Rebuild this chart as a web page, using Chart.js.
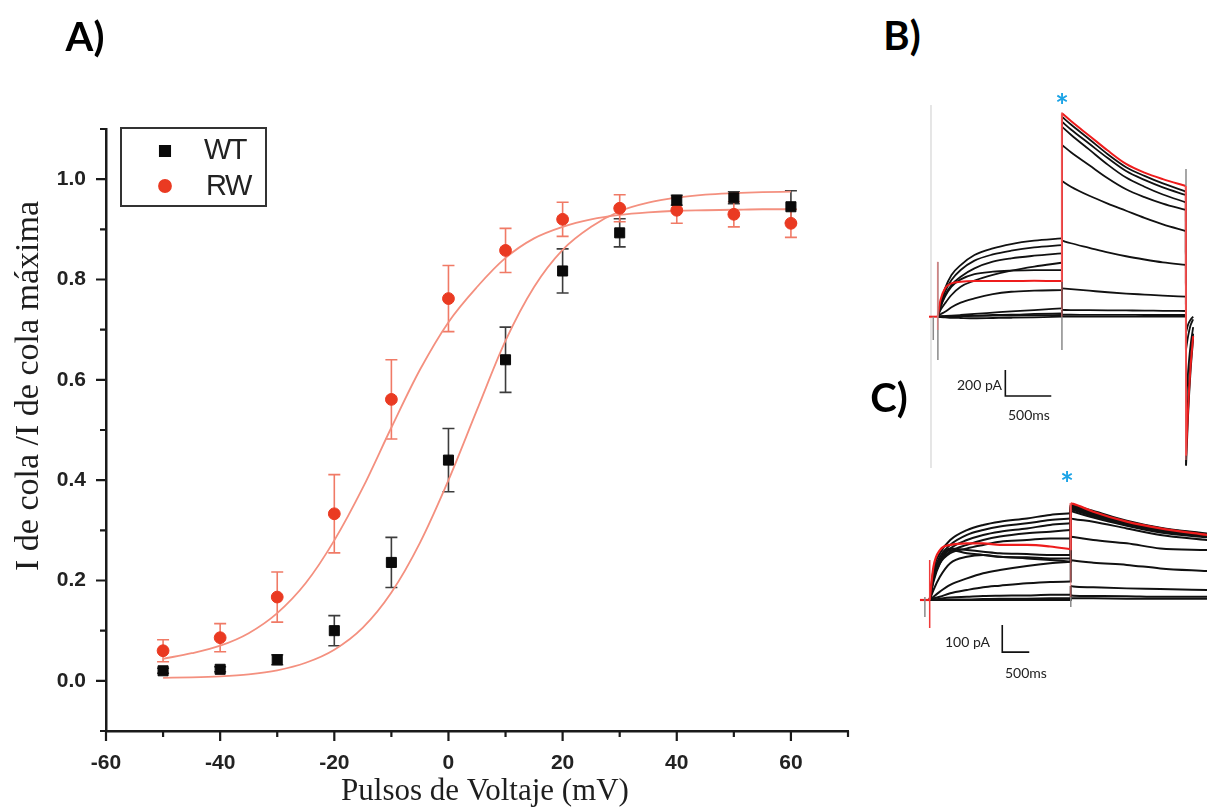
<!DOCTYPE html>
<html>
<head>
<meta charset="utf-8">
<script src="https://cdn.jsdelivr.net/npm/chart.js@4.4.1/dist/chart.umd.min.js"></script>
<style>
  body { margin: 0; background: #fff; }
  #page { position: relative; width: 1207px; height: 809px; overflow: hidden; background: #fff; }
  canvas { position: absolute; }
  #chartA { left: 0; top: 0; }
  #chartB { left: 925px; top: 90px; }
  #chartC { left: 915px; top: 470px; }
  .panel { position: absolute; font-family: Lato, "Liberation Sans", sans-serif; font-weight: bold; font-size: 40px; line-height: 40px; color: #000; transform: translate(-50%, -50%); }
  .bar { position: absolute; font-family: Lato, "Liberation Sans", sans-serif; font-size: 14px; line-height: 14px; color: #222; white-space: nowrap; }
  .star { position: absolute; font-family: Lato, "Liberation Sans", sans-serif; font-weight: bold; font-size: 32px; line-height: 32px; color: #1ba3e6; transform: translate(-50%, -50%); }
</style>
</head>
<body>
<div id="page">
  <canvas id="chartA" width="880" height="809"></canvas>
  <canvas id="chartB" width="270" height="380"></canvas>
  <canvas id="chartC" width="292" height="200"></canvas>
  <div class="panel" style="left:85px; top:36px;">A)</div>
  <div class="panel" style="left:902px; top:35px;">B)</div>
  <div class="panel" style="left:889px; top:397px;">C)</div>
  <div class="star" style="left:1062px; top:106px;">*</div>
  <div class="star" style="left:1067px; top:484px;">*</div>
  <div class="bar" style="left:957px; top:378px;">200 pA</div>
  <div class="bar" style="left:1008px; top:408px;">500ms</div>
  <div class="bar" style="left:945px; top:635px;">100 pA</div>
  <div class="bar" style="left:1005px; top:666px;">500ms</div>
</div>
<script>
// ---- A) normalised tail current vs step voltage ----
const voltages = [-50, -40, -30, -20, -10, 0, 10, 20, 30, 40, 50, 60];
const wtMean = [0.02, 0.023, 0.042, 0.10, 0.236, 0.44, 0.64, 0.817, 0.893, 0.958, 0.963, 0.945];
const wtErr = [0.005, 0.005, 0.01, 0.03, 0.05, 0.063, 0.065, 0.044, 0.028, 0.01, 0.012, 0.032];
const rwMean = [0.06, 0.086, 0.167, 0.333, 0.561, 0.762, 0.858, 0.92, 0.942, 0.938, 0.93, 0.912];
const rwErr = [0.022, 0.028, 0.05, 0.078, 0.079, 0.066, 0.044, 0.034, 0.027, 0.026, 0.025, 0.028];

// Boltzmann fits, read every 5 mV
const fitV = [-50, -45, -40, -35, -30, -25, -20, -15, -10, -5, 0, 5, 10, 15, 20, 25, 30, 35, 40, 45, 50, 55, 60];
const wtFit = [0.006, 0.007, 0.009, 0.013, 0.021, 0.036, 0.062, 0.106, 0.176, 0.275, 0.40, 0.54, 0.678, 0.785, 0.859, 0.905, 0.936, 0.953, 0.963, 0.969, 0.972, 0.974, 0.975];
const rwFit = [0.044, 0.055, 0.07, 0.095, 0.135, 0.195, 0.28, 0.385, 0.505, 0.62, 0.715, 0.785, 0.843, 0.882, 0.905, 0.92, 0.929, 0.934, 0.937, 0.938, 0.939, 0.94, 0.94];

const xTicks = [-60, -40, -20, 0, 20, 40, 60];
const yTicks = [0, 0.2, 0.4, 0.6, 0.8, 1.0];

// ---- B) current family (ms, pA) ----
const bStepT = [0, 30, 80, 150, 250, 400, 600, 800, 1050, 1350];
const bTailT = [1352, 1450, 1650, 1850, 2050, 2250, 2450, 2700];
const bOffT = [2703, 2725, 2750, 2780];
const bStep = [
  [0, 103, 218, 321, 397, 474, 526, 559, 585, 603],
  [0, 90, 192, 282, 359, 431, 479, 508, 533, 551],
  [0, 77, 167, 244, 308, 372, 423, 449, 469, 487],
  [0, 51, 103, 167, 231, 277, 321, 354, 385, 415],
  [0, 72, 154, 231, 287, 328, 346, 354, 359, 359],
  [0, 18, 38, 72, 108, 141, 174, 192, 200, 205],
  [0, 3, 5, 8, 13, 21, 31, 41, 51, 64],
  [0, 1, 3, 3, 5, 8, 13, 15, 21, 26],
  [0, 2, 3, 4, 5, 6, 8, 9, 11, 13],
  [0, -3, -5, -8, -10, -12, -10, -8, -5, 0]
];
const bTail = [
  [1538, 1478, 1365, 1250, 1150, 1083, 1025, 962],
  [1500, 1440, 1330, 1220, 1120, 1052, 995, 936],
  [1462, 1400, 1285, 1170, 1070, 1000, 940, 880],
  [1321, 1265, 1165, 1065, 980, 920, 870, 821],
  [1044, 1000, 930, 870, 815, 760, 710, 659],
  [585, 565, 530, 495, 465, 440, 418, 398],
  [218, 212, 200, 188, 178, 170, 162, 154],
  [52, 51, 50, 49, 48, 47, 45, 44],
  [15, 15, 14, 14, 14, 13, 13, 13],
  [0, 0, 0, 0, 0, 0, 0, 0]
];
const bOff = [
  [-1144, -760, -440, -170],
  null,
  [-950, -620, -350, -130],
  null,
  [-640, -420, -230, -80],
  [-250, -150, -70, -20],
  [-120, -60, -25, 0],
  null, null, null
];
const bRedPreT = [-95, -1];
const bRedPre = [0, 0];
const bRedStep = [0, 128, 218, 256, 269, 274, 274, 274, 277, 274];
const bRedTail = [1565, 1505, 1392, 1278, 1175, 1108, 1058, 1005];
const bRedOff = [-1067, -700, -400, -150];
// capacitive spikes and frame edge
const bPink = [[[0, 423], [0, -102]], [[1351, 1575], [1351, 0]], [[2701, 1005], [2701, -1103]]];
const bGray = [[[-48, 0], [-48, -179]], [[2, 421], [2, -333]], [[1352, 0], [1352, -256]], [[2702, 1136], [2702, 1005]]];
const bEdge = [[-73, 1628], [-73, -1164]];
const bScale = [[736, -410], [736, -610], [1236, -610]];

// ---- C) current family (ms, pA) ----
const cStepT = [0, 70, 190, 380, 690, 990, 1300, 1800, 2230, 2610];
const cTailT = [2612, 2660, 3030, 3650, 4270, 5140];
const cStep = [
  [0, 111, 173, 222, 259, 278, 290, 302, 315, 321],
  [0, 99, 160, 204, 241, 259, 272, 284, 296, 302],
  [0, 93, 148, 191, 222, 241, 253, 265, 278, 284],
  [0, 86, 142, 179, 204, 222, 235, 247, 253, 259],
  [0, 80, 136, 173, 191, 204, 216, 222, 228, 228],
  [0, 74, 148, 191, 185, 179, 173, 170, 167, 167],
  [0, 68, 136, 185, 173, 167, 160, 158, 154, 154],
  [0, 37, 86, 136, 160, 167, 160, 154, 148, 142],
  [0, 12, 31, 56, 80, 99, 111, 126, 136, 142],
  [0, 6, 12, 25, 37, 47, 53, 62, 67, 68],
  [0, 2, 5, 9, 12, 15, 16, 17, 19, 19],
  [0, 0, 1, 2, 2, 4, 5, 5, 6, 6],
  [0, 0, 0, 0, 0, 0, 0, 0, 0, 0]
];
const cTail = [
  [352, 350, 330, 294, 268, 246],
  [350, 347, 326, 291, 266, 244],
  [347, 344, 322, 288, 263, 242],
  [344, 341, 318, 285, 260, 240],
  [340, 337, 314, 282, 257, 238],
  [336, 333, 310, 278, 254, 235],
  [330, 327, 305, 275, 250, 232],
  [302, 300, 290, 265, 241, 222],
  [235, 233, 222, 210, 191, 185],
  [148, 146, 138, 130, 117, 107],
  [52, 50, 47, 43, 41, 37],
  [17, 16, 15, 14, 12, 12],
  [6, 6, 6, 5, 5, 5]
];
const cRedPreT = [-180, -1];
const cRedPre = [0, 0];
const cRedStep = [0, 123, 185, 204, 210, 210, 204, 204, 198, 188];
const cRedTail = [358, 356, 327, 290, 265, 241];
const cPink = [[[2611, 359], [2611, 11]]];
const cRedSpike = [[0, 148], [0, -104]];
const cGray = [[[-89, 11], [-89, -63]], [[2613, 11], [2613, -26]]];
const cScale = [[1344, -93], [1344, -193], [1844, -193]];

const TRACE_RED = '#ee1c1c';
const PINK = 'rgba(240, 120, 120, 0.65)';

// ---------- panel A ----------
const errorBars = {
  id: 'errorBars',
  beforeDatasetsDraw(chart) {
    const { ctx, scales: { x, y } } = chart;
    chart.data.datasets.forEach((ds) => {
      if (!ds.errors) return;
      ctx.save();
      ctx.strokeStyle = ds.errorColor;
      ctx.lineWidth = 1.6;
      ds.data.forEach((p, i) => {
        const px = x.getPixelForValue(p.x);
        const top = y.getPixelForValue(p.y + ds.errors[i]);
        const bot = y.getPixelForValue(p.y - ds.errors[i]);
        ctx.beginPath();
        ctx.moveTo(px, top); ctx.lineTo(px, bot);
        ctx.moveTo(px - 6, top); ctx.lineTo(px + 6, top);
        ctx.moveTo(px - 6, bot); ctx.lineTo(px + 6, bot);
        ctx.stroke();
      });
      ctx.restore();
    });
  }
};

// outward major/minor tick marks, axis titles and the boxed legend
const decorations = {
  id: 'decorations',
  afterDraw(chart) {
    const { ctx, chartArea, scales: { x, y } } = chart;
    ctx.save();
    ctx.strokeStyle = '#1a1a1a';
    ctx.lineWidth = 2.2;
    ctx.beginPath();
    x.ticks.forEach((t) => {
      const px = x.getPixelForValue(t.value);
      ctx.moveTo(px, chartArea.bottom);
      ctx.lineTo(px, chartArea.bottom + (t.label ? 10 : 6));
    });
    y.ticks.forEach((t) => {
      const py = y.getPixelForValue(t.value);
      ctx.moveTo(chartArea.left, py);
      ctx.lineTo(chartArea.left - (t.label ? 10 : 6), py);
    });
    ctx.stroke();

    ctx.fillStyle = '#1e1e1e';
    ctx.textAlign = 'center';
    ctx.textBaseline = 'alphabetic';
    ctx.font = '31px "Liberation Serif", serif';
    ctx.fillText('Pulsos de Voltaje (mV)', 485, 800);
    ctx.save();
    ctx.translate(38, 386);
    ctx.rotate(-Math.PI / 2);
    ctx.font = '34px "Liberation Serif", serif';
    ctx.fillText('I de cola /I de cola máxima', 0, 0);
    ctx.restore();

    ctx.strokeStyle = '#333';
    ctx.lineWidth = 2;
    ctx.strokeRect(121, 128, 145, 78);
    Chart.helpers.drawPoint(ctx, { pointStyle: 'rect', radius: 7.1, borderWidth: 1 }, 165, 151);
    ctx.fillStyle = '#0a0a0a'; ctx.strokeStyle = '#0a0a0a';
    ctx.fill(); ctx.stroke();
    ctx.fillStyle = '#ea3a22'; ctx.strokeStyle = '#ea3a22';
    Chart.helpers.drawPoint(ctx, { pointStyle: 'circle', radius: 5.9, borderWidth: 1 }, 165, 186);
    ctx.fillStyle = '#222';
    ctx.textAlign = 'left';
    ctx.textBaseline = 'middle';
    ctx.font = '29px "Liberation Sans", Arial, sans-serif';
    if ('letterSpacing' in ctx) ctx.letterSpacing = '-1.5px';
    ctx.fillText('WT', 204, 151);
    ctx.fillText('RW', 206, 187);
    ctx.restore();
  }
};

const tickFont = { family: '"Liberation Sans", Arial, sans-serif', size: 21, weight: 'bold' };

new Chart(document.getElementById('chartA'), {
  type: 'scatter',
  data: {
    datasets: [
      {
        label: 'WT',
        data: voltages.map((v, i) => ({ x: v, y: wtMean[i] })),
        pointStyle: 'rect', pointRadius: 7.1, pointBorderWidth: 1,
        backgroundColor: '#0a0a0a', borderColor: '#0a0a0a',
        errors: wtErr, errorColor: '#3c3c3c', order: 0
      },
      {
        label: 'RW',
        data: voltages.map((v, i) => ({ x: v, y: rwMean[i] })),
        pointStyle: 'circle', pointRadius: 5.9, pointBorderWidth: 1,
        backgroundColor: '#ea3a22', borderColor: '#ea3a22',
        errors: rwErr, errorColor: '#f07a66', order: 0
      },
      {
        label: 'WT fit',
        data: fitV.map((v, i) => ({ x: v, y: wtFit[i] })),
        showLine: true, pointRadius: 0, borderColor: '#f4907f', borderWidth: 1.8,
        cubicInterpolationMode: 'monotone', order: 2
      },
      {
        label: 'RW fit',
        data: fitV.map((v, i) => ({ x: v, y: rwFit[i] })),
        showLine: true, pointRadius: 0, borderColor: '#f4907f', borderWidth: 1.8,
        cubicInterpolationMode: 'monotone', order: 2
      }
    ]
  },
  options: {
    responsive: false,
    animation: false,
    events: [],
    layout: { padding: { top: 129, right: 32, left: 0, bottom: 0 } },
    plugins: { legend: { display: false }, tooltip: { enabled: false } },
    scales: {
      x: {
        type: 'linear', min: -60, max: 70,
        afterFit(scale) { scale.height = 78; },
        grid: { display: false, drawTicks: false },
        border: { display: true, color: '#1a1a1a', width: 2.5 },
        ticks: {
          stepSize: 10, autoSkip: false, maxRotation: 0, padding: 20,
          color: '#222', font: tickFont,
          callback: (v) => (xTicks.includes(v) ? String(v) : '')
        }
      },
      y: {
        type: 'linear', min: -0.1, max: 1.1,
        afterFit(scale) { scale.width = 106; },
        grid: { display: false, drawTicks: false },
        border: { display: true, color: '#1a1a1a', width: 2.5 },
        ticks: {
          stepSize: 0.1, autoSkip: false, padding: 20,
          color: '#222', font: tickFont,
          callback: (v) => {
            const k = Math.round(v * 10);
            return yTicks.includes(k / 10) ? (k / 10).toFixed(1) : '';
          }
        }
      }
    }
  },
  plugins: [errorBars, decorations]
});

// ---------- panels B and C ----------
function curve(times, vals, color, width, order) {
  return {
    data: times.map((t, i) => ({ x: t, y: vals[i] })),
    borderColor: color, borderWidth: width, pointRadius: 0,
    cubicInterpolationMode: 'monotone', fill: false, order
  };
}

function segment(points, color, width, order) {
  return {
    data: points.map(([x, y]) => ({ x, y })),
    borderColor: color, borderWidth: width, pointRadius: 0,
    tension: 0, fill: false, order
  };
}

// one sweep = smooth phases (step, tail, off) joined by straight jumps,
// so the fast jumps do not bend the slow curves next to them
function addSweep(sets, phases, color, width, order) {
  phases.forEach(([times, vals], k) => {
    sets.push(curve(times, vals, color, width, order));
    if (k > 0) {
      const [pt, pv] = phases[k - 1];
      const last = pt.length - 1;
      sets.push(segment([[pt[last], pv[last]], [times[0], vals[0]]], color, width, order));
    }
  });
}

function traceChart(id, xMin, xMax, yMin, yMax, datasets) {
  return new Chart(document.getElementById(id), {
    type: 'line',
    data: { datasets },
    options: {
      responsive: false,
      animation: false,
      events: [],
      layout: { padding: 0 },
      plugins: { legend: { display: false }, tooltip: { enabled: false } },
      scales: {
        x: { type: 'linear', min: xMin, max: xMax, display: false },
        y: { type: 'linear', min: yMin, max: yMax, display: false }
      }
    }
  });
}

const bSets = [];
bStep.forEach((row, i) => {
  const phases = [[bStepT, row], [bTailT, bTail[i]]];
  if (bOff[i]) phases.push([bOffT, bOff[i]]);
  addSweep(bSets, phases, '#111', 1.8, 3);
});
addSweep(bSets, [[bRedPreT, bRedPre], [bStepT, bRedStep], [bTailT, bRedTail], [bOffT, bRedOff]], TRACE_RED, 2, 2);
bSets.push(segment(bEdge, '#e2e2e2', 1, 4));
bGray.forEach((s) => bSets.push(segment(s, '#8a8a8a', 1.5, 1)));
bPink.forEach((s) => bSets.push(segment(s, PINK, 1.6, 0)));
bSets.push(segment(bScale, '#111', 1.6, 0));
traceChart('chartB', -138.2, 2800, -1179.2, 1743.8, bSets);

const cSets = [];
cStep.forEach((row, i) => {
  addSweep(cSets, [[cStepT, row], [cTailT, cTail[i]]], '#111', 2, 3);
});
addSweep(cSets, [[cRedPreT, cRedPre], [cStepT, cRedStep], [cTailT, cRedTail]], TRACE_RED, 2.2, 2);
cGray.forEach((s) => cSets.push(segment(s, '#8a8a8a', 1.5, 1)));
cSets.push(segment(cRedSpike, '#f03a3a', 1.5, 0));
cPink.forEach((s) => cSets.push(segment(s, PINK, 1.6, 0)));
cSets.push(segment(cScale, '#111', 1.6, 0));
traceChart('chartC', -272, 5135.4, -259.3, 481.4, cSets);
</script>
</body>
</html>
